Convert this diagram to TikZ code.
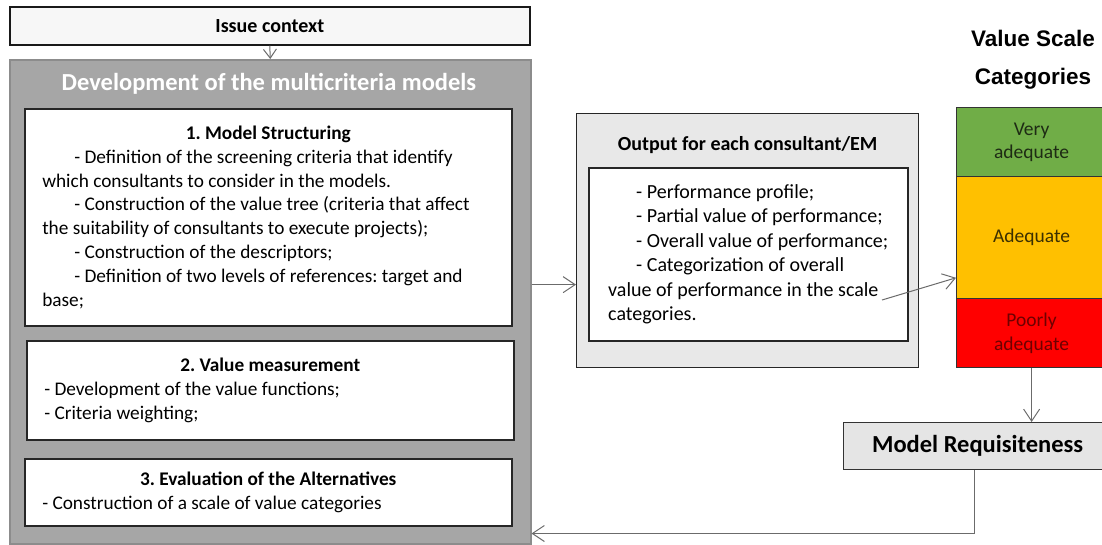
\documentclass[tikz,border=0pt]{standalone}
\usepackage{fontspec}
\setmainfont{Carlito}
\newfontfamily\headfont{Liberation Sans}
\usetikzlibrary{arrows.meta,positioning,calc}

\definecolor{frame}{HTML}{A6A6A6}
\definecolor{framedraw}{HTML}{8C8C8C}
\definecolor{vgood}{HTML}{70AD47}
\definecolor{good}{HTML}{FFC000}
\definecolor{poor}{HTML}{FF0000}
\definecolor{vgoodtext}{HTML}{1E2B14}
\definecolor{goodtext}{HTML}{3B2F00}
\definecolor{poortext}{HTML}{6E0000}

\newcommand{\ind}[1][32pt]{\hspace*{#1}}

\tikzset{
	txt/.style={font=\fontsize{19.3}{23.8}\selectfont\frenchspacing},
	box/.style={draw=black!85, line width=1.5pt, fill=white, inner xsep=17.5pt, inner ysep=0pt,
		anchor=north west, txt, align=left},
	cat/.style={draw=black!80, line width=1.2pt, anchor=north west, inner sep=0pt,
		minimum width=150pt, align=center, font=\fontsize{19.5}{23.5}\selectfont},
	arr/.style={draw=black!58, line width=1pt,
		-{Straight Barb[length=12pt,width=16pt,line width=1pt]}}
}

\begin{document}
\begin{tikzpicture}[x=1pt,y=-1pt]
	\useasboundingbox (0,0) rectangle (1102,544);

	\node[draw=black!90, line width=1.6pt, fill=black!3, anchor=north west,
		minimum width=520pt, minimum height=38pt, inner sep=0pt,
		font=\fontsize{20}{24}\selectfont\bfseries] (issue) at (9,6) {Issue context};

	\node[draw=framedraw, line width=1.5pt, fill=frame, anchor=north west,
		minimum width=521pt, minimum height=484pt] (main) at (9,59) {};
	\node[text=white, font=\fontsize{24.5}{30}\selectfont\bfseries] (maintitle) at (269,84)
		{Development of the multicriteria models};

	\node[box, minimum height=217pt] (struct) at (24,108) {%
		\makebox[452pt]{\bfseries 1. Model Structuring}\\
		\ind- Definition of the screening criteria that identify\\
		which consultants to consider in the models.\\
		\ind- Construction of the value tree (criteria that affect\\
		the suitability of consultants to execute projects);\\
		\ind- Construction of the descriptors;\\
		\ind- Definition of two levels of references: target and\\
		base;};

	\node[box, minimum height=99pt] (measure) at (26,340) {%
		\makebox[452pt]{\bfseries 2. Value measurement}\\
		- Development of the value functions;\\
		- Criteria weighting;};

	\node[box, minimum height=67pt] (evalalt) at (24,458) {%
		\makebox[452pt]{\bfseries 3. Evaluation of the Alternatives}\\
		- Construction of a scale of value categories};

	\node[draw=black!85, line width=1.3pt, fill=black!9, anchor=north west,
		minimum width=342pt, minimum height=254pt] (out) at (576,113) {};
	\node[font=\fontsize{20}{24}\selectfont\bfseries, below=32pt of out.north, anchor=center] (outtitle)
		{Output for each consultant/EM};
	\node[box, inner xsep=17pt, minimum width=319pt, minimum height=173pt,
		font=\fontsize{20}{24.5}\selectfont] (outlist) at (588,167) {%
		\ind[28pt]- Performance profile;\\
		\ind[28pt]- Partial value of performance;\\
		\ind[28pt]- Overall value of performance;\\
		\ind[28pt]- Categorization of overall\\
		value of performance in the scale\\
		categories.};

	\node[font=\headfont\fontsize{22.5}{26}\selectfont\bfseries] (scaletitle) at (1033,38) {Value Scale};
	\node[font=\headfont\fontsize{22.5}{26}\selectfont\bfseries] (cattitle) at (1033,79) {Categories};

	\node[cat, fill=vgood, text=vgoodtext, minimum height=69pt] (vgood) at (956,107) {Very\\adequate};
	\node[cat, fill=good, text=goodtext, minimum height=122pt] (adeq) at (956,176) {Adequate};
	\node[cat, fill=poor, text=poortext, minimum height=69pt] (poor) at (956,298) {Poorly\\adequate};

	\node[draw=black!80, line width=1.3pt, fill=black!10, anchor=north west,
		minimum width=268pt, minimum height=47pt, inner sep=0pt,
		font=\fontsize{24.5}{28}\selectfont\bfseries] (req) at (843,422) {Model Requisiteness};

	\draw[arr, -{Straight Barb[length=9pt,width=13pt,line width=1pt]}] (issue.south) -- (main.north);

	\coordinate (outin) at ([yshift=-44pt]out.west);
	\draw[arr] (outin -| main.east) -- (outin);

	\coordinate (catfrom) at (882,300);
	\draw[arr] (catfrom) -- (adeq.208);

	\draw[arr] (poor.south) -- (poor.south |- req.north);

	\draw[arr] ([xshift=-3pt]req.south) |- ([yshift=11pt]main.south east);
\end{tikzpicture}
\end{document}
